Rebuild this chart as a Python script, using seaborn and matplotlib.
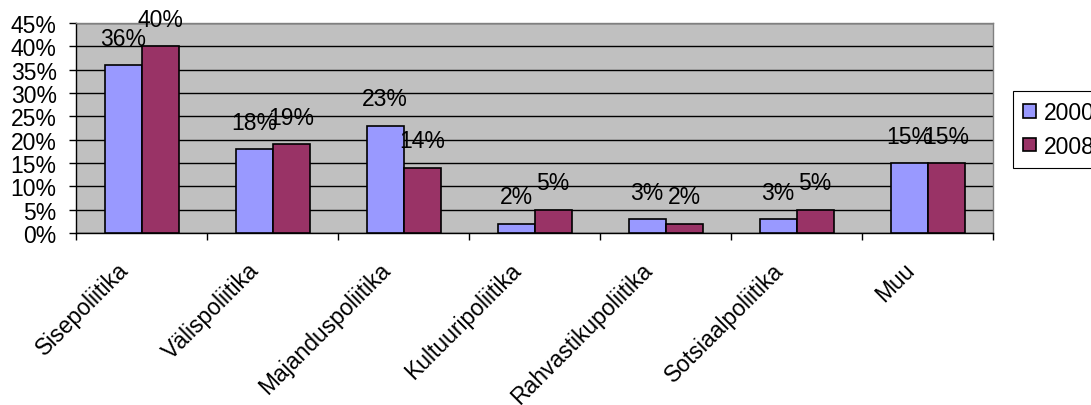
import seaborn as sns, matplotlib.pyplot as plt, numpy as np, pandas as pd
import matplotlib.transforms as mtransforms
from matplotlib.ticker import FixedLocator, PercentFormatter

categories = ['Sisepoliitika', 'Välispoliitika', 'Majanduspoliitika', 'Kultuuripoliitika',
              'Rahvastikupoliitika', 'Sotsiaalpoliitika', 'Muu']
years = ['2000', '2008']
share_2000 = [36, 18, 23, 2, 3, 3, 15]
share_2008 = [40, 19, 14, 5, 2, 5, 15]
colors = ['#9999FF', '#993366']

df = pd.DataFrame({
    'cat': categories * 2,
    'year': [years[0]] * len(categories) + [years[1]] * len(categories),
    'val': share_2000 + share_2008,
})

sns.set_style('white')
plt.rcParams['font.family'] = ['Liberation Sans', 'DejaVu Sans']
plt.rcParams['text.color'] = 'black'
plt.rcParams['xtick.color'] = 'black'
plt.rcParams['ytick.color'] = 'black'
fs = 16.5

fig = plt.figure(figsize=(10.91, 4.06), dpi=100)
ax = fig.add_axes([0.0697, 0.4236, 0.8405, 0.5174])
ax.set_facecolor('#C0C0C0')

sns.barplot(data=df, x='cat', y='val', hue='year', palette=colors, width=0.565, saturation=1,
            edgecolor='black', linewidth=1.2, ax=ax, zorder=3, legend=True)

# data labels, centred over each bar like Excel does
for cont in ax.containers:
    ax.bar_label(cont, labels=['%d%%' % v for v in cont.datavalues], padding=11, fontsize=fs,
                 color='black', zorder=4)

ax.set_ylim(0, 45)
ax.set_xlim(-0.5, len(categories) - 0.5)
ax.set_yticks(np.arange(0, 46, 5))
ax.yaxis.set_major_formatter(PercentFormatter(decimals=0))
ax.yaxis.grid(True, color='black', linewidth=1, zorder=1)
ax.set_axisbelow(True)

ax.set_xticks(range(len(categories)))
ax.set_xticklabels(categories, rotation=45, ha='right', va='top', rotation_mode='anchor')
ax.xaxis.set_minor_locator(FixedLocator(np.arange(-0.5, len(categories), 1)))
ax.tick_params(axis='x', which='major', length=0, pad=18, labelsize=fs, labelcolor='black')
ax.tick_params(axis='x', which='minor', length=5, width=1, color='black', direction='out', bottom=True)
ax.tick_params(axis='y', length=5, width=1, color='black', direction='out', left=True, labelsize=fs,
               labelcolor='black', pad=9)

shift = mtransforms.ScaledTranslation(-25 / 100, 0, fig.dpi_scale_trans)
for lab in ax.get_xticklabels():
    lab.set_transform(lab.get_transform() + shift)

for s in ['top', 'right']:
    ax.spines[s].set_color('#808080')
for s in ['left', 'bottom']:
    ax.spines[s].set_color('black')
for s in ax.spines.values():
    s.set_linewidth(1)

ax.set_xlabel('')
ax.set_ylabel('')

leg = ax.legend(loc='upper left', bbox_to_anchor=(1013 / 1091, 1 - 92 / 406), bbox_transform=fig.transFigure,
                frameon=True, fancybox=False, edgecolor='black', fontsize=fs,
                handlelength=0.55, handleheight=0.55, handletextpad=0.35, labelspacing=0.45,
                borderpad=0.45, borderaxespad=0, framealpha=1)
leg.get_frame().set_linewidth(0.8)
for t in leg.get_texts():
    t.set_color('black')

fig.savefig('out.png', dpi=100)
